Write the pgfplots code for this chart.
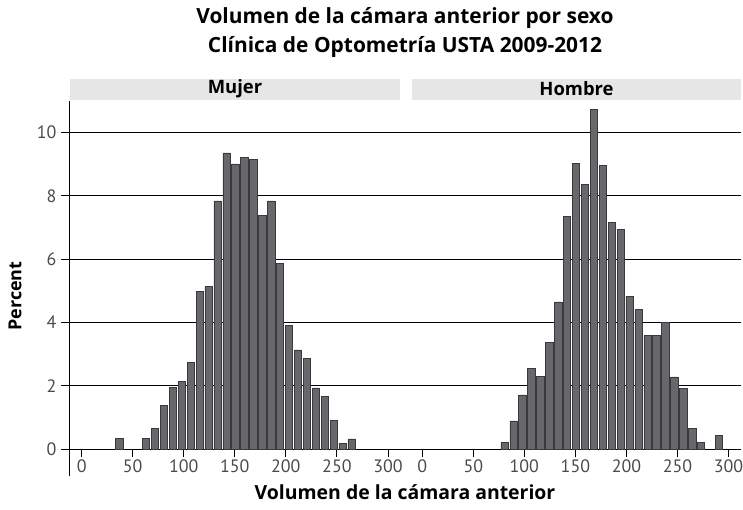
\documentclass[border=0pt]{standalone}
\usepackage{fontspec}
\setmainfont{Open Sans}
\newfontfamily\tickfont{PT Sans}
\usepackage{pgfplots}
\pgfplotsset{compat=1.18}
\definecolor{barfill}{RGB}{104,104,108}
\definecolor{baredge}{RGB}{58,58,60}
\definecolor{stripgray}{RGB}{230,230,230}
\definecolor{tickgray}{RGB}{75,75,75}
\pgfplotsset{panel/.style={
  scale only axis, width=336bp, height=348bp, anchor=south west,
  ymin=0, ymax=11, ytick={0,2,...,10}, ymajorgrids,
  grid style={black, line width=0.9bp},
  axis x line*=bottom, axis y line*=left,
  xtick={0,50,...,300},
  tick align=outside,
  major tick length=8bp,
  tick style={black, line width=0.9bp},
  axis line style={black, line width=0.9bp, -},
  ybar, bar width=7.2,
  /pgf/number format/assume math mode=true,
  ticklabel style={font=\tickfont\fontsize{18}{18}\selectfont, text=tickgray},
  xticklabel style={yshift=1bp},
  yticklabel style={xshift=-1bp},
  clip=false,
}}
\begin{document}
\begin{tikzpicture}[x=1bp,y=1bp]
\useasboundingbox (0bp,0bp) rectangle (743bp,510bp);
% titles
\node[font=\bfseries\fontsize{21}{21}\selectfont] at (405bp,491.5bp) {Volumen de la cámara anterior por sexo};
\node[font=\bfseries\fontsize{21}{21}\selectfont] at (405bp,462.5bp) {Clínica de Optometría USTA 2009-2012};
% strips
\fill[stripgray] (70bp,410bp) rectangle (400bp,431bp);
\fill[stripgray] (412bp,410bp) rectangle (741bp,431bp);
\node[font=\bfseries\fontsize{18.5}{18.5}\selectfont] at (235bp,421bp) {Mujer};
\node[font=\bfseries\fontsize{18.5}{18.5}\selectfont] at (576.5bp,421bp) {Hombre};
% y-axis extension below the x axis
\draw[black, line width=0.9bp] (69bp,61bp) -- (69bp,34bp);
% left panel
\begin{axis}[panel, at={(69bp,61bp)}, xmin=-12.4, xmax=316.7]
\addplot[fill=barfill, draw=baredge, line width=0.6bp] coordinates {
(36.875,0.33) (63.125,0.33) (71.875,0.64) (80.625,1.39) (89.375,1.94)
(98.125,2.14) (106.875,2.73) (115.625,4.97) (124.375,5.13) (133.125,7.84)
(141.875,9.36) (150.625,9.01) (159.375,9.21) (168.125,9.16) (176.875,7.38)
(185.625,7.84) (194.375,5.86) (203.125,3.90) (211.875,3.13) (220.625,2.87)
(229.375,1.93) (238.125,1.67) (246.875,0.90) (255.625,0.18) (264.375,0.32)
};
\end{axis}
% right panel
\begin{axis}[panel, at={(405bp,61bp)}, xmin=-16.9, xmax=312.2,
  yticklabels={}, ytick style={draw=none}, y axis line style={draw=none}]
\addplot[fill=barfill, draw=baredge, line width=0.6bp] coordinates {
(80.625,0.21) (89.375,0.89) (98.125,1.71) (106.875,2.56) (115.625,2.29)
(124.375,3.37) (133.125,4.65) (141.875,7.36) (150.625,9.04) (159.375,8.36)
(168.125,10.73) (176.875,8.97) (185.625,7.15) (194.375,6.94) (203.125,4.83)
(211.875,4.40) (220.625,3.59) (229.375,3.59) (238.125,3.99) (246.875,2.28)
(255.625,1.91) (264.375,0.65) (273.125,0.22) (290.625,0.43)
};
\end{axis}
% axis labels
\node[font=\bfseries\fontsize{19.5}{19.5}\selectfont] at (405bp,18bp) {Volumen de la cámara anterior};
\node[font=\bfseries\fontsize{18}{18}\selectfont, rotate=90] at (15bp,214bp) {Percent};
\end{tikzpicture}
\end{document}
